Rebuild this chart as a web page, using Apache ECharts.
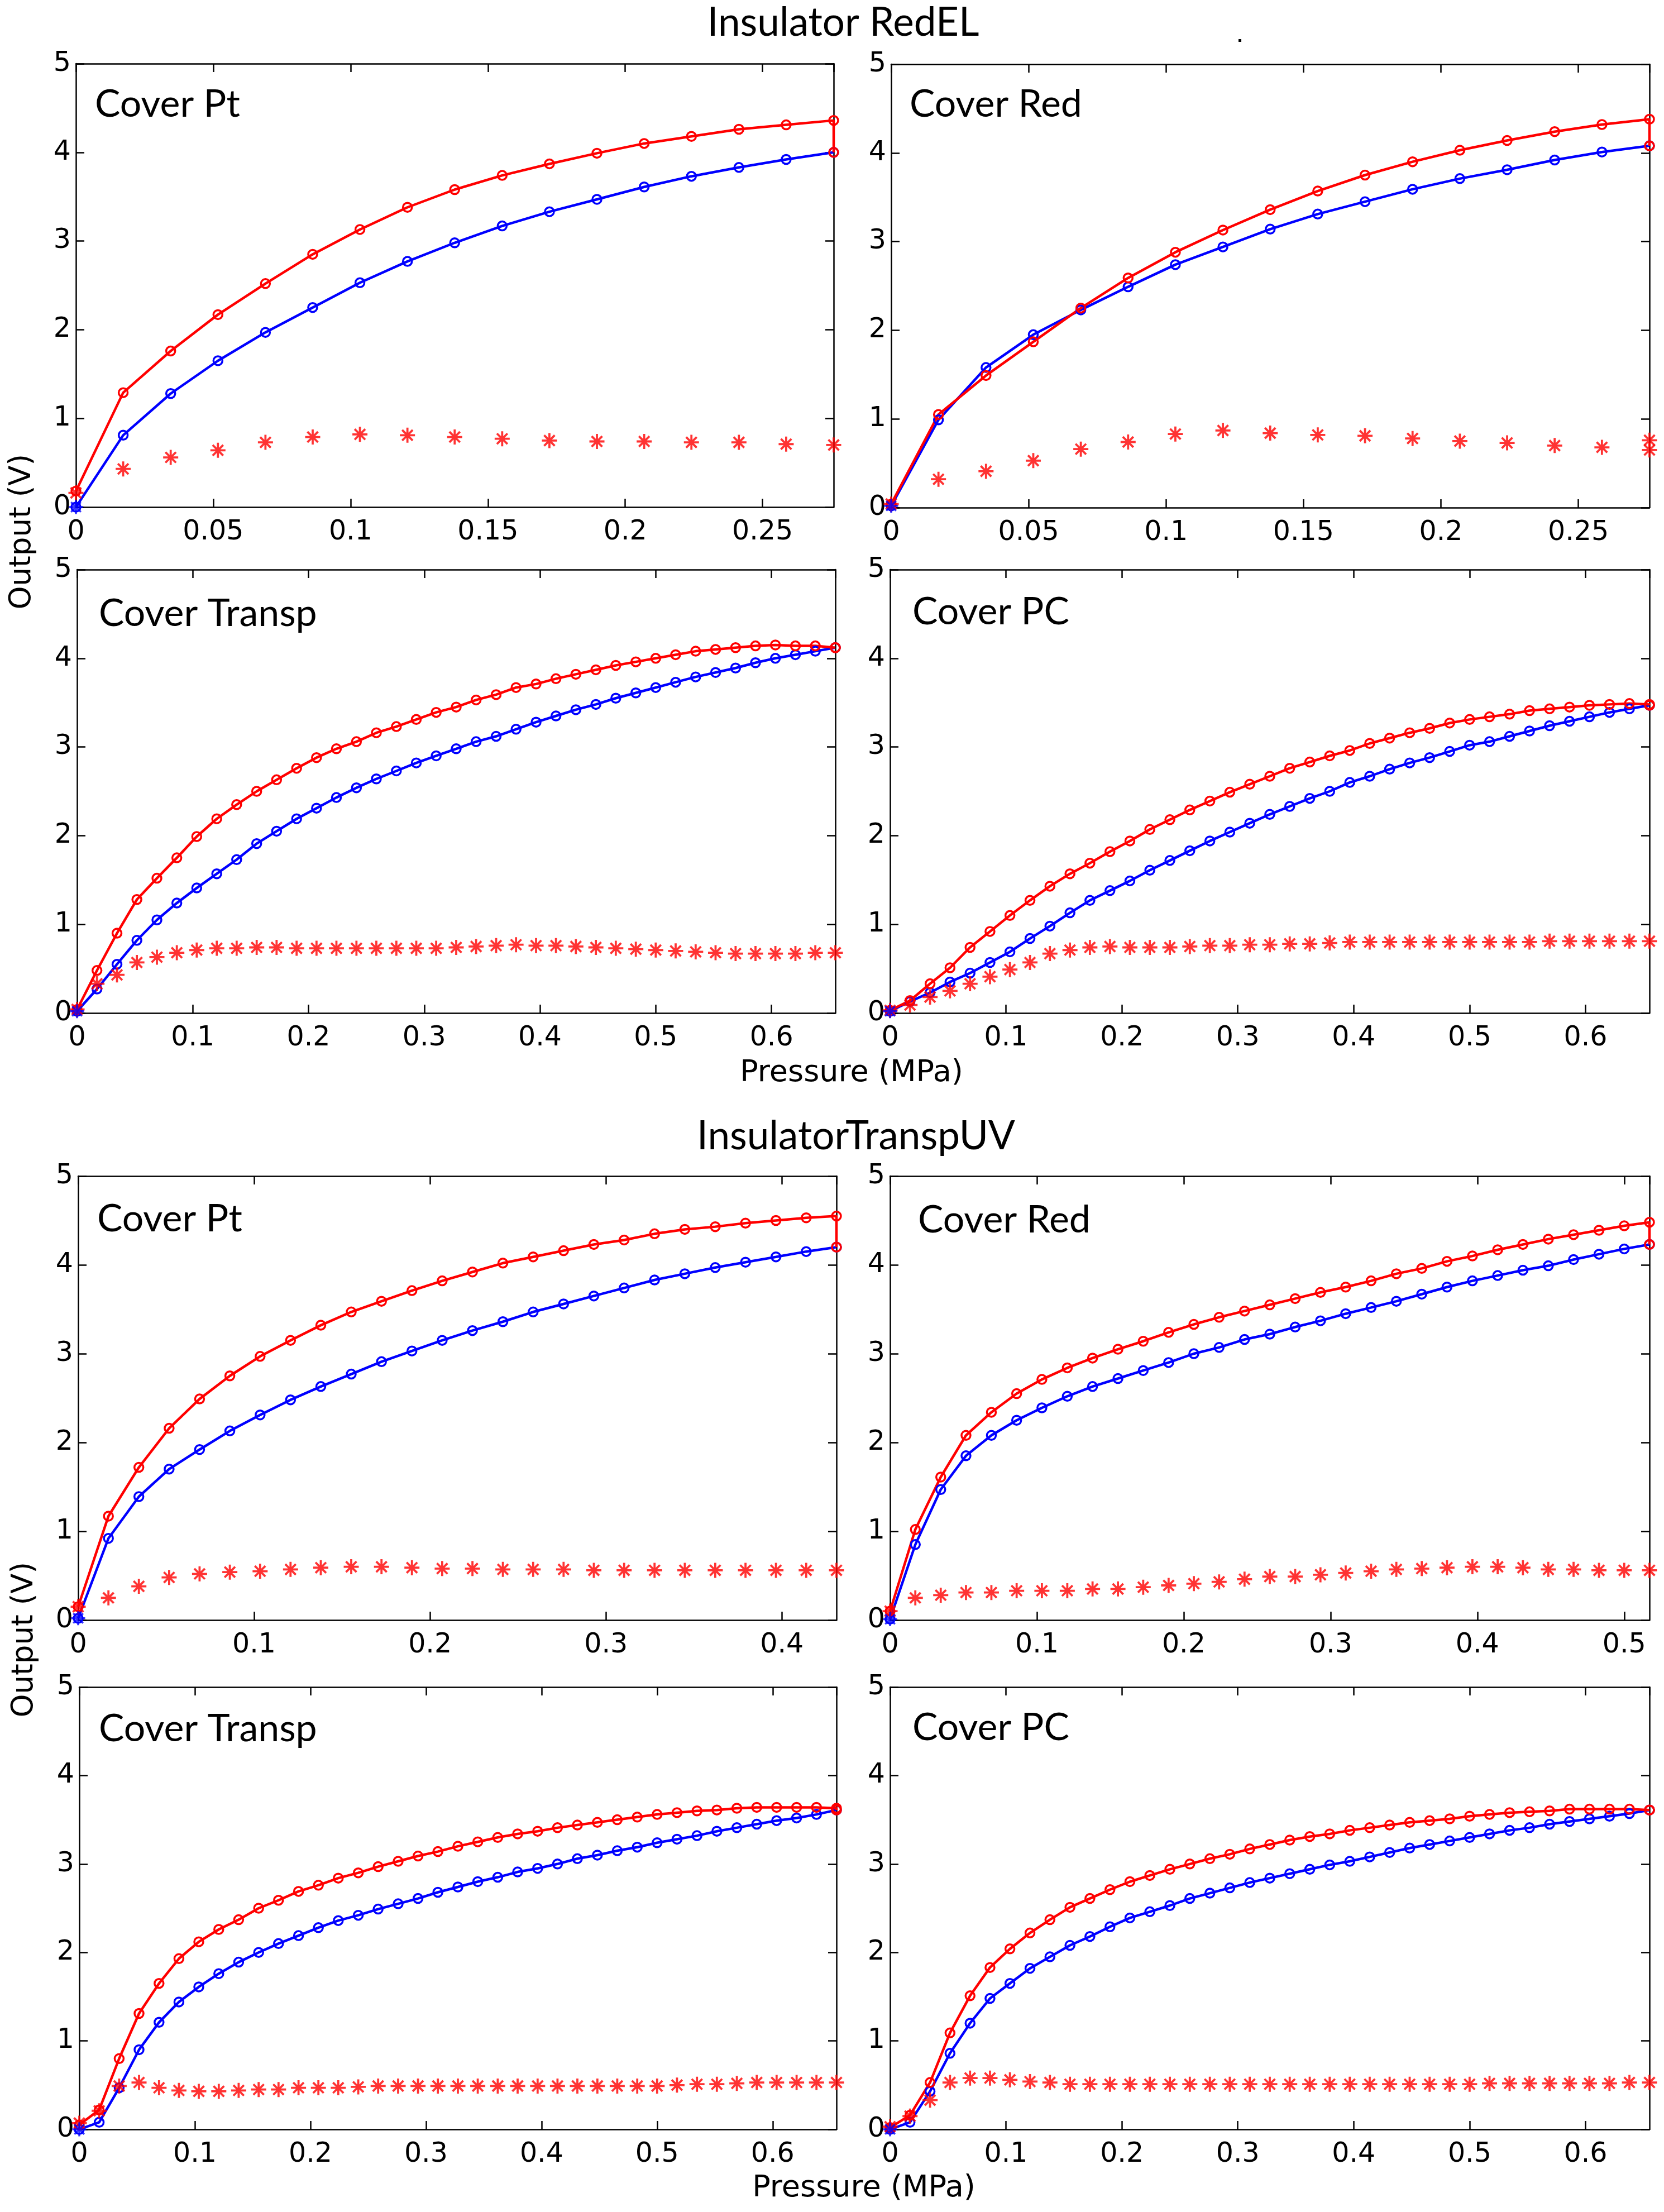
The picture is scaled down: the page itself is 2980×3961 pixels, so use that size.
<!DOCTYPE html>
<html>
<head>
<meta charset="utf-8">
<script src="https://cdn.jsdelivr.net/npm/echarts@6/dist/echarts.min.js"></script>
<style>
html,body{margin:0;padding:0;background:#fff;}
#chart{width:2980px;height:3961px;}
</style>
</head>
<body>
<div id="chart"></div>
<script>
// ---------- data ----------
const pressure = [0, 0.0172, 0.0345, 0.0517, 0.0690, 0.0862, 0.1034, 0.1207, 0.1379, 0.1552, 0.1724, 0.1897, 0.2069, 0.2241, 0.2414, 0.2586, 0.2759, 0.2931, 0.3103, 0.3276, 0.3448, 0.3621, 0.3793, 0.3966, 0.4138, 0.4310, 0.4483, 0.4655, 0.4828, 0.5000, 0.5172, 0.5345, 0.5517, 0.5690, 0.5862, 0.6034, 0.6207, 0.6379, 0.6552];

const groupTitles = ['Insulator RedEL', 'InsulatorTranspUV'];
const panelNames = ['Cover Pt', 'Cover Red', 'Cover Transp', 'Cover PC', 'Cover Pt', 'Cover Red', 'Cover Transp', 'Cover PC'];
const xTickSteps = [0.05, 0.05, 0.1, 0.1, 0.1, 0.1, 0.1, 0.1];
const yTicks = [0, 1, 2, 3, 4, 5];

// Insulator RedEL - Cover Pt
const p1Red  = [0.18, 1.29, 1.76, 2.17, 2.52, 2.85, 3.13, 3.38, 3.58, 3.74, 3.87, 3.99, 4.10, 4.18, 4.26, 4.31, 4.36];
const p1Blue = [0.00, 0.81, 1.28, 1.65, 1.97, 2.25, 2.53, 2.77, 2.98, 3.17, 3.33, 3.47, 3.61, 3.73, 3.83, 3.92, 4.00];
const p1Star = [0.16, 0.43, 0.56, 0.64, 0.73, 0.79, 0.82, 0.81, 0.79, 0.77, 0.75, 0.74, 0.74, 0.73, 0.73, 0.71, 0.70];
// Insulator RedEL - Cover Red
const p2Red  = [0.04, 1.05, 1.49, 1.87, 2.25, 2.59, 2.88, 3.13, 3.36, 3.57, 3.75, 3.90, 4.03, 4.14, 4.24, 4.32, 4.38];
const p2Blue = [0.02, 0.99, 1.58, 1.95, 2.23, 2.49, 2.74, 2.94, 3.14, 3.31, 3.45, 3.59, 3.71, 3.81, 3.92, 4.01, 4.08];
const p2Star = [0.04, 0.32, 0.41, 0.53, 0.66, 0.74, 0.83, 0.87, 0.84, 0.82, 0.81, 0.78, 0.75, 0.73, 0.70, 0.68, 0.76];
const p2StarExtra = [0.65];
// Insulator RedEL - Cover Transp
const p3Red  = [0.04, 0.48, 0.90, 1.28, 1.52, 1.75, 1.99, 2.19, 2.35, 2.50, 2.63, 2.76, 2.88, 2.98, 3.06, 3.16, 3.23, 3.31, 3.39, 3.45, 3.53, 3.59, 3.67, 3.71, 3.77, 3.82, 3.87, 3.92, 3.96, 4.00, 4.04, 4.08, 4.10, 4.12, 4.14, 4.15, 4.14, 4.14, 4.12];
const p3Blue = [0.02, 0.27, 0.55, 0.82, 1.05, 1.24, 1.41, 1.57, 1.73, 1.91, 2.05, 2.19, 2.31, 2.43, 2.54, 2.64, 2.73, 2.82, 2.90, 2.98, 3.06, 3.12, 3.20, 3.28, 3.35, 3.42, 3.48, 3.55, 3.61, 3.67, 3.73, 3.79, 3.84, 3.89, 3.95, 4.00, 4.04, 4.08, 4.12];
const p3Star = [0.04, 0.33, 0.43, 0.57, 0.63, 0.68, 0.71, 0.73, 0.73, 0.74, 0.74, 0.73, 0.73, 0.73, 0.73, 0.73, 0.73, 0.73, 0.73, 0.74, 0.75, 0.76, 0.77, 0.76, 0.76, 0.75, 0.74, 0.73, 0.72, 0.71, 0.70, 0.69, 0.68, 0.67, 0.67, 0.67, 0.67, 0.68, 0.68];
// Insulator RedEL - Cover PC
const p4Red  = [0.03, 0.14, 0.33, 0.51, 0.74, 0.92, 1.10, 1.27, 1.43, 1.57, 1.69, 1.82, 1.94, 2.07, 2.18, 2.29, 2.39, 2.49, 2.58, 2.67, 2.76, 2.83, 2.90, 2.96, 3.04, 3.10, 3.16, 3.21, 3.27, 3.31, 3.34, 3.37, 3.41, 3.43, 3.45, 3.47, 3.48, 3.49, 3.48];
const p4Blue = [0.02, 0.13, 0.23, 0.35, 0.45, 0.57, 0.69, 0.84, 0.98, 1.13, 1.27, 1.38, 1.49, 1.61, 1.72, 1.83, 1.94, 2.04, 2.14, 2.24, 2.33, 2.42, 2.50, 2.60, 2.67, 2.75, 2.82, 2.88, 2.95, 3.02, 3.06, 3.12, 3.18, 3.24, 3.29, 3.34, 3.39, 3.43, 3.47];
const p4Star = [0.03, 0.09, 0.18, 0.25, 0.33, 0.41, 0.49, 0.57, 0.67, 0.71, 0.74, 0.75, 0.74, 0.74, 0.74, 0.75, 0.76, 0.76, 0.77, 0.77, 0.78, 0.78, 0.79, 0.80, 0.80, 0.80, 0.80, 0.80, 0.80, 0.80, 0.80, 0.80, 0.80, 0.81, 0.81, 0.81, 0.81, 0.81, 0.81];
// InsulatorTranspUV - Cover Pt
const p5Red  = [0.15, 1.17, 1.72, 2.16, 2.49, 2.75, 2.97, 3.15, 3.32, 3.47, 3.59, 3.71, 3.82, 3.92, 4.02, 4.09, 4.16, 4.23, 4.28, 4.35, 4.40, 4.43, 4.47, 4.50, 4.53, 4.55];
const p5Blue = [0.02, 0.92, 1.39, 1.70, 1.92, 2.13, 2.31, 2.48, 2.63, 2.77, 2.91, 3.03, 3.15, 3.26, 3.36, 3.47, 3.56, 3.65, 3.74, 3.83, 3.90, 3.97, 4.03, 4.09, 4.15, 4.20];
const p5Star = [0.15, 0.25, 0.38, 0.48, 0.52, 0.54, 0.55, 0.57, 0.59, 0.60, 0.60, 0.59, 0.58, 0.58, 0.57, 0.57, 0.57, 0.56, 0.56, 0.56, 0.56, 0.56, 0.56, 0.56, 0.56, 0.56];
// InsulatorTranspUV - Cover Red
const p6Red  = [0.10, 1.02, 1.61, 2.08, 2.34, 2.55, 2.71, 2.84, 2.95, 3.05, 3.14, 3.24, 3.33, 3.41, 3.48, 3.55, 3.62, 3.69, 3.75, 3.82, 3.90, 3.96, 4.04, 4.10, 4.17, 4.23, 4.29, 4.34, 4.39, 4.44, 4.48];
const p6Blue = [0.01, 0.85, 1.47, 1.85, 2.08, 2.25, 2.39, 2.52, 2.63, 2.72, 2.81, 2.90, 3.00, 3.07, 3.16, 3.22, 3.30, 3.37, 3.45, 3.52, 3.59, 3.67, 3.75, 3.82, 3.88, 3.94, 3.99, 4.06, 4.12, 4.18, 4.23];
const p6Star = [0.10, 0.25, 0.28, 0.31, 0.31, 0.33, 0.33, 0.33, 0.35, 0.35, 0.37, 0.39, 0.41, 0.43, 0.46, 0.49, 0.49, 0.51, 0.53, 0.55, 0.57, 0.58, 0.59, 0.60, 0.60, 0.59, 0.57, 0.57, 0.56, 0.56, 0.56];
// InsulatorTranspUV - Cover Transp
const p7Red  = [0.05, 0.22, 0.80, 1.31, 1.65, 1.93, 2.12, 2.26, 2.37, 2.50, 2.59, 2.69, 2.76, 2.84, 2.90, 2.97, 3.03, 3.09, 3.14, 3.20, 3.25, 3.30, 3.34, 3.37, 3.41, 3.44, 3.47, 3.50, 3.53, 3.56, 3.58, 3.60, 3.61, 3.63, 3.64, 3.64, 3.64, 3.64, 3.63];
const p7Blue = [0.00, 0.08, 0.47, 0.90, 1.21, 1.44, 1.61, 1.76, 1.89, 2.00, 2.10, 2.19, 2.28, 2.36, 2.42, 2.49, 2.55, 2.61, 2.68, 2.74, 2.80, 2.85, 2.91, 2.95, 3.00, 3.06, 3.10, 3.15, 3.19, 3.24, 3.28, 3.32, 3.37, 3.41, 3.45, 3.49, 3.52, 3.56, 3.61];
const p7Star = [0.07, 0.21, 0.49, 0.53, 0.47, 0.44, 0.43, 0.43, 0.44, 0.45, 0.45, 0.47, 0.47, 0.47, 0.48, 0.49, 0.49, 0.49, 0.49, 0.49, 0.49, 0.49, 0.49, 0.49, 0.49, 0.49, 0.49, 0.49, 0.49, 0.49, 0.50, 0.51, 0.51, 0.52, 0.53, 0.53, 0.53, 0.53, 0.53];
// InsulatorTranspUV - Cover PC
const p8Red  = [0.02, 0.16, 0.53, 1.09, 1.51, 1.83, 2.04, 2.22, 2.37, 2.51, 2.61, 2.71, 2.80, 2.87, 2.94, 3.00, 3.06, 3.11, 3.17, 3.22, 3.27, 3.31, 3.34, 3.38, 3.41, 3.44, 3.47, 3.49, 3.51, 3.54, 3.56, 3.58, 3.59, 3.60, 3.62, 3.62, 3.62, 3.62, 3.61];
const p8Blue = [0.00, 0.08, 0.43, 0.86, 1.20, 1.48, 1.65, 1.82, 1.95, 2.08, 2.18, 2.29, 2.39, 2.46, 2.53, 2.61, 2.67, 2.73, 2.79, 2.84, 2.89, 2.94, 2.99, 3.03, 3.08, 3.13, 3.18, 3.22, 3.26, 3.30, 3.34, 3.38, 3.41, 3.45, 3.48, 3.51, 3.54, 3.57, 3.61];
const p8Star = [0.03, 0.15, 0.33, 0.53, 0.58, 0.58, 0.56, 0.54, 0.53, 0.51, 0.51, 0.51, 0.51, 0.51, 0.51, 0.51, 0.51, 0.51, 0.51, 0.51, 0.51, 0.51, 0.51, 0.51, 0.51, 0.51, 0.51, 0.51, 0.51, 0.51, 0.52, 0.52, 0.52, 0.52, 0.52, 0.52, 0.52, 0.53, 0.53];

const panelData = [
  {red: p1Red, blue: p1Blue, star: p1Star, extra: []},
  {red: p2Red, blue: p2Blue, star: p2Star, extra: p2StarExtra},
  {red: p3Red, blue: p3Blue, star: p3Star, extra: []},
  {red: p4Red, blue: p4Blue, star: p4Star, extra: []},
  {red: p5Red, blue: p5Blue, star: p5Star, extra: []},
  {red: p6Red, blue: p6Blue, star: p6Star, extra: []},
  {red: p7Red, blue: p7Blue, star: p7Star, extra: []},
  {red: p8Red, blue: p8Blue, star: p8Star, extra: []}
];

// ---------- layout ----------
const gridRects = [
  {left: 136, top: 114, width: 1357, height: 794},
  {left: 1596, top: 115, width: 1358, height: 794},
  {left: 138, top: 1020, width: 1358, height: 794},
  {left: 1594, top: 1020, width: 1360, height: 794},
  {left: 140, top: 2106, width: 1358, height: 795},
  {left: 1594, top: 2106, width: 1360, height: 795},
  {left: 142, top: 3021, width: 1356, height: 792},
  {left: 1594, top: 3021, width: 1360, height: 792}
];
const labelPos = [
  [170, 187], [1629, 187], [177, 1099], [1634, 1096],
  [174, 2183], [1644, 2185], [177, 3096], [1634, 3094]
];

const RED = '#ff0000', BLUE = '#0000ff', BLACK = '#000000';
const STAR = 'path://M43 0H57V100H43Z M0 43H100V57H0Z M20 10L90 80L80 90L10 20Z M80 10L90 20L20 90L10 80Z';
const tickFont = 'DejaVu Sans';
const textFont = 'Lato';

function fmt(v) { return String(+v.toFixed(3)); }

const grids = [], xAxes = [], yAxes = [], series = [];
panelData.forEach((d, i) => {
  const n = d.red.length;
  const xs = pressure.slice(0, n);
  const xmax = xs[n - 1];
  grids.push(Object.assign({containLabel: false}, gridRects[i]));
  const lineCommon = {color: BLACK, width: 2.5};
  const tickCommon = {show: true, inside: true, length: 15, lineStyle: {color: BLACK, width: 2.5}};
  xAxes.push({
    type: 'value', gridIndex: i, position: 'bottom', min: 0, max: xmax, interval: xTickSteps[i],
    axisLine: {show: true, onZero: false, lineStyle: lineCommon},
    axisTick: tickCommon,
    axisLabel: {show: true, fontFamily: tickFont, fontSize: 49, color: BLACK, margin: 21, showMaxLabel: false, formatter: fmt},
    splitLine: {show: false}
  });
  xAxes.push({
    type: 'value', gridIndex: i, position: 'top', min: 0, max: xmax, interval: xTickSteps[i],
    axisLine: {show: true, onZero: false, lineStyle: lineCommon},
    axisTick: tickCommon,
    axisLabel: {show: false},
    splitLine: {show: false}
  });
  yAxes.push({
    type: 'value', gridIndex: i, position: 'left', min: yTicks[0], max: yTicks[yTicks.length - 1], interval: 1,
    axisLine: {show: true, onZero: false, lineStyle: lineCommon},
    axisTick: tickCommon,
    axisLabel: {show: true, fontFamily: tickFont, fontSize: 49, color: BLACK, margin: 9, formatter: fmt},
    splitLine: {show: false}
  });
  yAxes.push({
    type: 'value', gridIndex: i, position: 'right', min: yTicks[0], max: yTicks[yTicks.length - 1], interval: 1,
    axisLine: {show: true, onZero: false, lineStyle: lineCommon},
    axisTick: tickCommon,
    axisLabel: {show: false},
    splitLine: {show: false}
  });
  const xi = 2 * i, yi = 2 * i;
  const blueData = xs.map((x, k) => [x, d.blue[k]]);
  const redData = xs.map((x, k) => [x, d.red[k]]);
  redData.push([xmax, d.blue[n - 1]]);
  const starData = xs.map((x, k) => [x, d.star[k]]);
  d.extra.forEach(v => starData.push([xmax, v]));
  const lineSeries = (data, color) => ({
    type: 'line', xAxisIndex: xi, yAxisIndex: yi, data: data,
    symbol: 'circle', symbolSize: 16, showSymbol: true, showAllSymbol: true,
    itemStyle: {color: 'rgba(0,0,0,0)', borderColor: color, borderWidth: 3.5},
    lineStyle: {color: color, width: 4.5},
    clip: false, silent: true, animation: false, z: 3
  });
  series.push(lineSeries(blueData, BLUE));
  series.push(lineSeries(redData, RED));
  series.push({
    type: 'scatter', xAxisIndex: xi, yAxisIndex: yi, data: starData,
    symbol: STAR, symbolSize: 27, itemStyle: {color: RED},
    clip: false, silent: true, animation: false, z: 4
  });
  series.push({
    type: 'scatter', xAxisIndex: xi, yAxisIndex: yi, data: [[xs[0], d.blue[0]]],
    symbol: STAR, symbolSize: 25, itemStyle: {color: BLUE},
    clip: false, silent: true, animation: false, z: 4
  });
});

const graphics = [];
panelNames.forEach((name, i) => {
  graphics.push({
    type: 'text', x: labelPos[i][0], y: labelPos[i][1], z: 10,
    style: {text: name, fontFamily: textFont, fontSize: 68, fill: BLACK, align: 'left', verticalAlign: 'middle'}
  });
});
graphics.push({type: 'text', x: 1510, y: 41, z: 10,
  style: {text: groupTitles[0], fontFamily: textFont, fontSize: 71, fill: BLACK, align: 'center', verticalAlign: 'middle'}});
graphics.push({type: 'text', x: 1533, y: 2035, z: 10,
  style: {text: groupTitles[1], fontFamily: textFont, fontSize: 71, fill: BLACK, align: 'center', verticalAlign: 'middle'}});
graphics.push({type: 'text', x: 1525, y: 1922, z: 10,
  style: {text: 'Pressure (MPa)', fontFamily: tickFont, fontSize: 54, fill: BLACK, align: 'center', verticalAlign: 'middle'}});
graphics.push({type: 'text', x: 1547, y: 3919, z: 10,
  style: {text: 'Pressure (MPa)', fontFamily: tickFont, fontSize: 54, fill: BLACK, align: 'center', verticalAlign: 'middle'}});
graphics.push({type: 'text', x: 40, y: 952, rotation: Math.PI / 2, z: 10,
  style: {text: 'Output (V)', fontFamily: tickFont, fontSize: 53, fill: BLACK, align: 'center', verticalAlign: 'middle'}});
graphics.push({type: 'text', x: 44, y: 2936, rotation: Math.PI / 2, z: 10,
  style: {text: 'Output (V)', fontFamily: tickFont, fontSize: 53, fill: BLACK, align: 'center', verticalAlign: 'middle'}});
graphics.push({type: 'rect', shape: {x: 2218, y: 70, width: 5, height: 5}, style: {fill: BLACK}, z: 10});

const chart = echarts.init(document.getElementById('chart'), null, {renderer: 'canvas'});
chart.setOption({
  backgroundColor: '#ffffff',
  animation: false,
  grid: grids,
  xAxis: xAxes,
  yAxis: yAxes,
  series: series,
  graphic: graphics
});
</script>
</body>
</html>
